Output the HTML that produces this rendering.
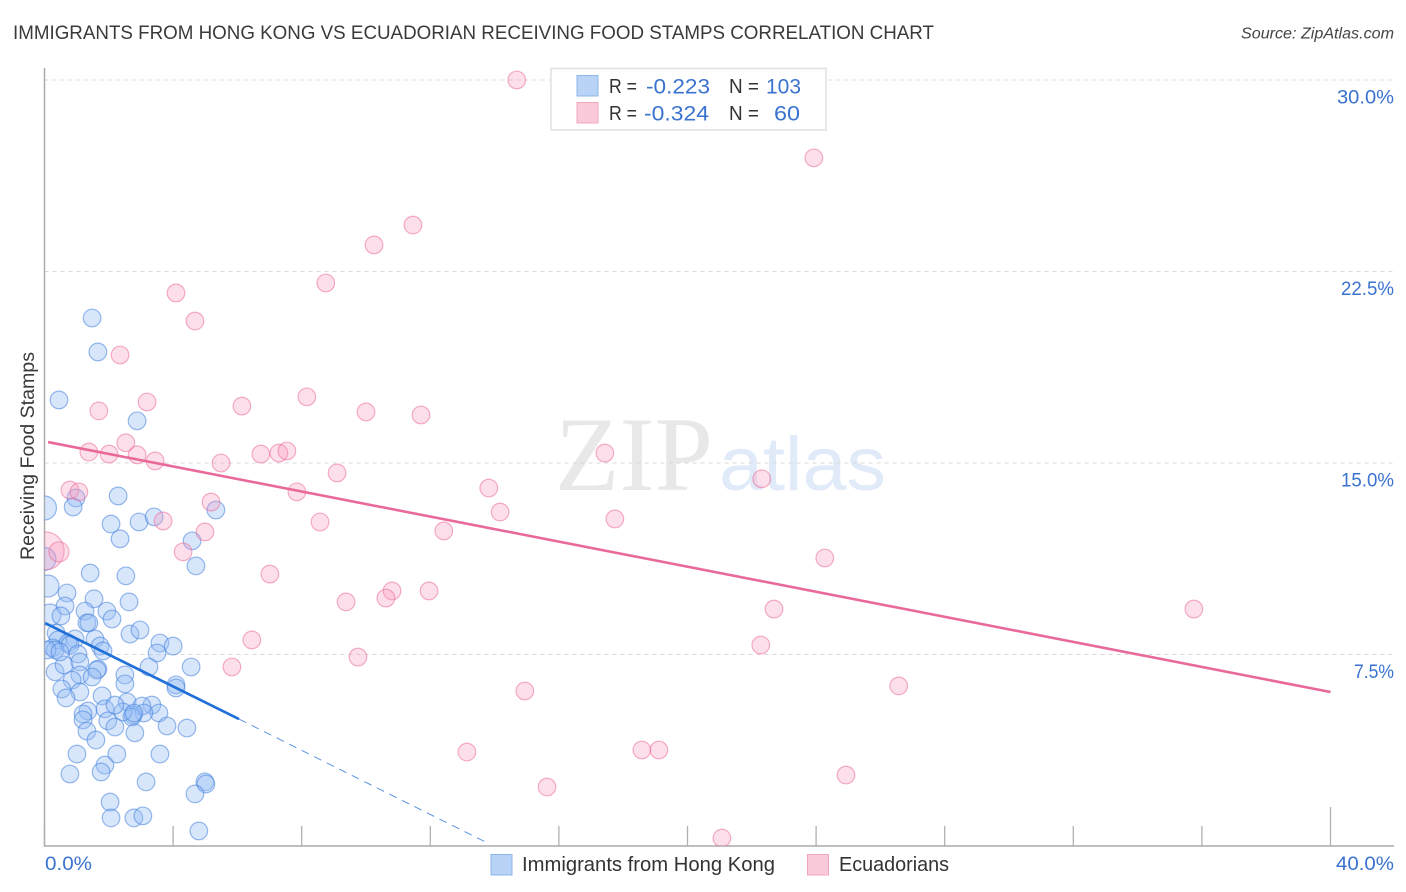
<!DOCTYPE html>
<html lang="en">
<head>
<meta charset="utf-8">
<title>Immigrants from Hong Kong vs Ecuadorian Receiving Food Stamps Correlation Chart</title>
<style>
html,body{margin:0;padding:0;background:#fff;}
svg{display:block;font-family:"Liberation Sans",sans-serif;}
</style>
</head>
<body>
<svg id="chart" xmlns="http://www.w3.org/2000/svg" width="1406" height="892" viewBox="0 0 1406 892">
  <defs><clipPath id="plot-clip"><rect x="44.5" y="60" width="1350" height="786"/></clipPath></defs>
  <text x="13" y="39" font-size="19.5" fill="#3a3a3a" textLength="921" lengthAdjust="spacingAndGlyphs">IMMIGRANTS FROM HONG KONG VS ECUADORIAN RECEIVING FOOD STAMPS CORRELATION CHART</text>
  <text x="1241" y="38.5" font-size="15.5" font-style="italic" fill="#444" textLength="153" lengthAdjust="spacingAndGlyphs">Source: ZipAtlas.com</text>
  <g>
    <text x="555" y="490" font-family="'Liberation Serif',serif" font-size="106" fill="#e8e8e8" textLength="158" lengthAdjust="spacingAndGlyphs">ZIP</text>
    <text x="719" y="490" font-size="76" fill="#e0eaf9" textLength="167" lengthAdjust="spacingAndGlyphs">atlas</text>
  </g>
  <g id="grid"></g>
  <g id="axes"></g>
  <g id="blue-points" clip-path="url(#plot-clip)"></g>
  <g id="pink-points" clip-path="url(#plot-clip)"></g>
  <g id="trends"></g>
  <text transform="translate(34,456) rotate(-90)" font-size="19.5" fill="#3a3a3a" text-anchor="middle" textLength="208" lengthAdjust="spacingAndGlyphs">Receiving Food Stamps</text>
  <g>
    <rect x="551" y="68.5" width="275" height="61.5" fill="#fff" stroke="#e0e0e0" stroke-width="1.5"/>
    <rect x="577" y="75.5" width="21" height="20.5" fill="#b8d3f6" stroke="#8db5ea" stroke-width="1"/>
    <rect x="577" y="102.5" width="21" height="20.5" fill="#fbc9d9" stroke="#f0a6bf" stroke-width="1"/>
    <g font-size="20.5" fill="#333">
      <text x="609" y="93" textLength="28" lengthAdjust="spacingAndGlyphs">R =</text>
      <text x="729" y="93" textLength="30" lengthAdjust="spacingAndGlyphs">N =</text>
      <text x="609" y="120" textLength="28" lengthAdjust="spacingAndGlyphs">R =</text>
      <text x="729" y="120" textLength="30" lengthAdjust="spacingAndGlyphs">N =</text>
    </g>
    <g font-size="21.5" fill="#3a72d0">
      <text x="646" y="93.5" textLength="64" lengthAdjust="spacingAndGlyphs">-0.223</text>
      <text x="766" y="93.5" textLength="35" lengthAdjust="spacingAndGlyphs">103</text>
      <text x="644" y="120.5" textLength="65" lengthAdjust="spacingAndGlyphs">-0.324</text>
      <text x="774" y="120.5" textLength="26" lengthAdjust="spacingAndGlyphs">60</text>
    </g>
  </g>
  <g>
    <rect x="491" y="854.5" width="21" height="20.5" fill="#b8d3f6" stroke="#8db5ea" stroke-width="1"/>
    <text x="522" y="871" font-size="20" fill="#333" textLength="253" lengthAdjust="spacingAndGlyphs">Immigrants from Hong Kong</text>
    <rect x="807.5" y="854.5" width="21" height="20.5" fill="#fbc9d9" stroke="#f0a6bf" stroke-width="1"/>
    <text x="839" y="871" font-size="20" fill="#333" textLength="110" lengthAdjust="spacingAndGlyphs">Ecuadorians</text>
  </g>
</svg>
<script>
// Values in percent.
const xEdgeTicks = [0, 40];
const xEdgeTickLabels = ["0.0%", "40.0%"];
const xTicks = [0, 4, 8, 12, 16, 20, 24, 28, 32, 36, 40];
const yTicks = [7.5, 15, 22.5, 30];
const yTickLabels = ["7.5%", "15.0%", "22.5%", "30.0%"];

const blueX = [0,0,0.11,0.17,1.48,1.66,0.45,2.88,2.29,0.98,0.89,2.07,2.94,3.41,2.35,4.59,5.33,4.71,1.42,2.53,0.70,0.64,1.54,2.63,0.51,1.26,1.94,2.10,1.32,1.38,0.36,0.95,2.66,2.97,1.57,3.59,4.00,3.50,1.73,1.82,0.42,0.73,0.79,0.26,0.33,1.04,3.25,4.56,0.33,0.61,1.10,1.66,1.63,2.50,1.10,1.48,0.86,2.50,4.09,4.09,1.79,0.54,1.10,0.67,2.57,3.34,3.03,3.56,3.09,2.75,2.72,2.44,1.88,2.19,1.35,1.20,1.20,1.97,2.19,1.32,2.81,3.81,4.43,1.60,1.01,2.25,3.59,1.88,1.76,0.79,3.16,4.99,5.02,4.68,2.04,2.07,2.78,3.06,4.80,0.08,0.48,2.78];
const blueY = [13.24,11.24,10.18,9.05,20.68,19.35,17.47,16.65,13.71,13.63,13.28,12.61,12.69,12.89,12.03,11.95,13.16,10.97,10.69,10.58,9.91,9.40,9.68,9.56,9.01,9.20,9.20,8.89,8.74,8.74,8.34,8.11,8.30,8.46,8.11,7.95,7.83,7.56,7.83,7.64,8.07,7.95,7.87,7.76,7.68,7.52,7.01,7.01,6.82,7.09,7.21,6.93,6.89,6.70,6.70,6.62,6.50,6.35,6.31,6.19,5.88,6.15,6.03,5.80,5.64,5.52,5.48,5.21,5.21,5.13,5.05,5.25,5.37,5.52,5.29,5.17,4.94,4.90,4.66,4.50,4.43,4.70,4.62,4.15,3.60,3.60,3.60,3.17,2.90,2.82,2.51,2.51,2.43,2.04,1.72,1.10,1.10,1.18,0.59,7.68,7.60,5.21];
// Relative sample weight of the first points; every other point has weight 1.
const blueWeights = [1.85, 1.7, 1.55, 1.55];

const pinkX = [0.02,0.45,14.69,23.93,11.46,10.25,8.75,4.09,4.68,2.35,8.16,3.19,6.14,1.69,10.00,11.71,2.53,1.38,2.01,2.88,3.44,5.49,6.73,7.29,7.54,17.43,9.10,22.31,13.82,7.85,0.79,1.07,5.18,14.17,17.74,8.57,3.69,4.99,12.42,4.31,24.27,7.01,10.81,10.62,11.96,9.38,22.69,35.75,6.45,22.28,9.75,5.83,26.57,14.94,13.14,18.58,19.11,24.93,15.63,21.07];
const pinkY = [11.56,11.52,30.00,26.95,24.32,23.54,22.05,21.66,20.56,19.23,17.59,17.39,17.23,17.04,17.00,16.88,15.79,15.43,15.35,15.32,15.08,15.00,15.35,15.39,15.47,15.39,14.61,14.38,14.02,13.87,13.94,13.87,13.47,13.08,12.81,12.69,12.73,12.30,12.34,11.52,11.28,10.65,9.99,9.71,9.99,9.56,9.28,9.28,8.07,7.87,7.40,7.01,6.27,6.07,3.68,3.76,3.76,2.78,2.31,0.31];
const pinkWeights = [4.66, 1.3];

const blueTrendSolid = [[0.02, 8.73], [6.05, 4.97]];
const blueTrendDashed = [[6.05, 4.97], [13.76, 0.13]];
const pinkTrend = [[0.11, 15.82], [40, 6.03]];

const SVG_NS = "http://www.w3.org/2000/svg";
const xScale = v => 44.5 + v * (1286 / 40);
const yScale = v => 846 - v * (191.5 / 7.5);
const baseRadius = 8.8;
const radiusOf = w => baseRadius * Math.sqrt(w);

function make(tag, attrs, parentId) {
  const el = document.createElementNS(SVG_NS, tag);
  for (const k in attrs) el.setAttribute(k, attrs[k]);
  document.getElementById(parentId).appendChild(el);
  return el;
}

// Label widths differ from Liberation Sans for narrow digits.
function labelWidth(label) {
  if (label.length === 4) return 40;
  if (label.charAt(0) === "3") return 57;
  return 53;
}

yTicks.forEach((t, i) => {
  const gl = make("line", {x1: 44.5, x2: 1394, y1: yScale(t), y2: yScale(t), stroke: "#d9d9d9", "stroke-width": 1, "stroke-dasharray": "4 4"}, "grid");
  
  
  const w = labelWidth(yTickLabels[i]);
  const lb = make("text", {x: 1394 - w, y: yScale(t) + 23.5, "font-size": 19.5, fill: "#3a72d0", textLength: w, lengthAdjust: "spacingAndGlyphs"}, "axes");
  lb.textContent = yTickLabels[i];
  
  
});

const yAxisLine = make("line", {x1: 44.5, x2: 44.5, y1: 68, y2: 846.5, stroke: "#aaa", "stroke-width": 1.5}, "axes");


const xAxisLine = make("line", {x1: 44, x2: 1394, y1: 846, y2: 846, stroke: "#aaa", "stroke-width": 1.5}, "axes");



xTicks.forEach(t => {
  const last = t === 40;
  const tk = make("line", {x1: xScale(t), x2: xScale(t), y1: last ? 807 : 826, y2: 846, stroke: "#b0b0b0", "stroke-width": 1.3}, "axes");
  
  
});

xEdgeTicks.forEach((t, i) => {
  const w = i === 0 ? 47 : 58;
  const lb = make("text", {x: i === 0 ? xScale(t) + 0.5 : 1394 - w, y: 870, "font-size": 19.5, fill: "#3a72d0", textLength: w, lengthAdjust: "spacingAndGlyphs"}, "axes");
  lb.textContent = xEdgeTickLabels[i];
  
  
});

blueX.forEach((v, i) => {
  const c = make("circle", {cx: xScale(v), cy: yScale(blueY[i]), r: radiusOf(blueWeights[i] || 1), fill: "rgba(150,190,245,0.38)", stroke: "rgba(70,130,220,0.55)", "stroke-width": 1.2}, "blue-points");
  
  
});

pinkX.forEach((v, i) => {
  const c = make("circle", {cx: xScale(v), cy: yScale(pinkY[i]), r: radiusOf(pinkWeights[i] || 1), fill: "rgba(250,150,190,0.3)", stroke: "rgba(235,110,155,0.55)", "stroke-width": 1.2}, "pink-points");
  
  
});

function trend(points, color, width, dash, name) {
  const attrs = {x1: xScale(points[0][0]), y1: yScale(points[0][1]), x2: xScale(points[1][0]), y2: yScale(points[1][1]), stroke: color, "stroke-width": width};
  if (dash) attrs["stroke-dasharray"] = dash;
  const l = make("line", attrs, "trends");
  
  
}
trend(pinkTrend, "#e9699a", 2.6, null, "ecuadorian-trend-line");
trend(blueTrendSolid, "#1f6fd8", 2.6, null, "hong-kong-trend-line");
trend(blueTrendDashed, "#5b93e0", 1, "8 6", "hong-kong-trend-extension");
</script>
</body>
</html>
